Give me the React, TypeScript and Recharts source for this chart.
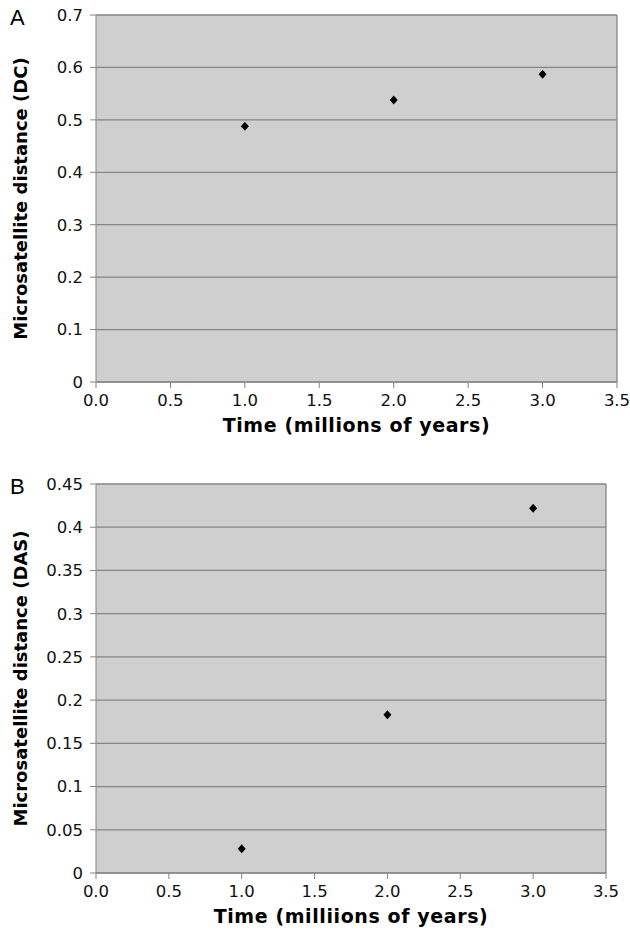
import React from "react";
import {
  ScatterChart,
  Scatter,
  XAxis,
  YAxis,
  CartesianGrid,
  ReferenceLine,
} from "recharts";

const timeMy = [1, 2, 3];
const dcValues = [0.488, 0.538, 0.587];
const dasValues = [0.028, 0.183, 0.422];
const xTicks = [0, 0.5, 1, 1.5, 2, 2.5, 3, 3.5];
const dcTicks = [0, 0.1, 0.2, 0.3, 0.4, 0.5, 0.6, 0.7];
const dasTicks = [0, 0.05, 0.1, 0.15, 0.2, 0.25, 0.3, 0.35, 0.4, 0.45];

const FONT = "'DejaVu Sans', Verdana, sans-serif";
const GRAY = "#858585";

const diamond = (props: any) => {
  const { cx, cy } = props;
  return (
    <path
      d={`M${cx},${cy - 4.5} L${cx + 4},${cy} L${cx},${cy + 4.5} L${cx - 4},${cy} Z`}
      fill="#000"
    />
  );
};

const YTitle = ({ viewBox, value }: any) => {
  const cy = viewBox.y + viewBox.height / 2;
  return (
    <text
      x={27}
      y={cy}
      transform={`rotate(-90, 27, ${cy})`}
      textAnchor="middle"
      fontFamily={FONT}
      fontWeight="bold"
      fontSize={18}
      fill="#000"
    >
      {value}
    </text>
  );
};

function Panel({
  values,
  yTicks,
  yTitle,
  xTitle,
  height,
  right,
}: {
  values: number[];
  yTicks: number[];
  yTitle: string;
  xTitle: string;
  height: number;
  right: number;
}) {
  const data = timeMy.map((t, i) => ({ x: t, y: values[i] }));
  const xMax = xTicks[xTicks.length - 1];
  const yMax = yTicks[yTicks.length - 1];
  return (
    <ScatterChart
      width={630}
      height={height}
      margin={{ top: 15, right, bottom: 0, left: 0 }}
    >
      <CartesianGrid
        vertical={false}
        fill="#cfcfcf"
        fillOpacity={1}
        stroke={GRAY}
        strokeWidth={1.3}
      />
      <XAxis
        type="number"
        dataKey="x"
        domain={[0, xMax]}
        ticks={xTicks}
        tickFormatter={(v: number) => v.toFixed(1)}
        height={60}
        tickSize={6}
        tickMargin={6}
        stroke={GRAY}
        tick={{ fill: "#111", fontSize: 16.5, fontFamily: FONT }}
        label={{
          value: xTitle,
          position: "insideBottom",
          offset: 10,
          style: {
            fontFamily: FONT,
            fontWeight: "bold",
            fontSize: 19,
            letterSpacing: 0.6,
            fill: "#000",
          },
        }}
      />
      <YAxis
        type="number"
        dataKey="y"
        domain={[0, yMax]}
        ticks={yTicks}
        width={96}
        tickSize={6}
        tickMargin={7}
        stroke={GRAY}
        tick={{ fill: "#111", fontSize: 16.5, fontFamily: FONT }}
        label={<YTitle value={yTitle} />}
      />
      <ReferenceLine x={xMax} stroke={GRAY} strokeWidth={1.3} />
      <Scatter data={data} shape={diamond} isAnimationActive={false} />
    </ScatterChart>
  );
}

const panelLetter: React.CSSProperties = {
  position: "absolute",
  left: 10,
  fontFamily: "'Liberation Sans', Arial, sans-serif",
  fontSize: 22,
  color: "#000",
  lineHeight: 1,
};

export default function App() {
  return (
    <div style={{ position: "absolute", left: 0, top: 0, width: 630, height: 935, background: "#fff" }}>
      <div style={{ position: "absolute", left: 0, top: 0 }}>
        <Panel
          values={dcValues}
          yTicks={dcTicks}
          yTitle="Microsatellite distance (DC)"
          xTitle="Time (millions of years)"
          height={442}
          right={13}
        />
      </div>
      <div style={{ position: "absolute", left: 0, top: 469 }}>
        <Panel
          values={dasValues}
          yTicks={dasTicks}
          yTitle="Microsatellite distance (DAS)"
          xTitle="Time (milliions of years)"
          height={464}
          right={24}
        />
      </div>
      <div style={{ ...panelLetter, top: 7 }}>A</div>
      <div style={{ ...panelLetter, top: 476 }}>B</div>
    </div>
  );
}
